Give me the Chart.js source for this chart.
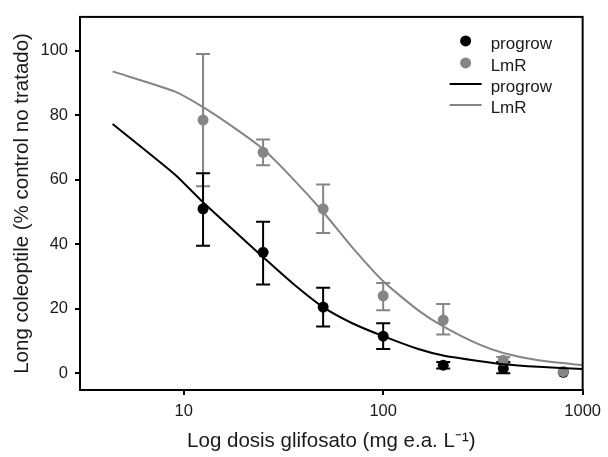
<!DOCTYPE html>
<html><head><meta charset="utf-8">
<script src="https://cdn.jsdelivr.net/npm/chart.js@4.4.1/dist/chart.umd.min.js"></script>
<style>html,body{margin:0;padding:0;background:#fff}#wrap{width:608px;height:457px}</style>
</head><body><div id="wrap"><canvas id="c" width="608" height="457"></canvas></div>
<script>
const doses = [12.5, 25, 50, 100, 200, 400, 800];
const progrowMean = [51, 37.5, 20.5, 11.5, 2.5, 1.5, 0.3];
const progrowLow  = [39.5, 27.5, 14.5, 7.5, 1.5, 0, 0.3];
const progrowHigh = [62, 47, 26.5, 15.5, 3.5, 3.5, 0.3];
const lmrMean = [78.5, 68.5, 51, 24, 16.5, 4, 0.5];
const lmrLow  = [58, 64.5, 43.5, 19.5, 12, 3, 0.5];
const lmrHigh = [99, 72.5, 58.5, 28, 21.5, 5, 0.5];
const curveX = [4.4, 9, 12.5, 18, 25, 35, 50, 70, 100, 150, 200, 300, 400, 600, 1000];
const progrowFit = [77.3, 61.7, 53, 44, 36, 28, 20.5, 15.5, 11.5, 7.5, 5.5, 3.8, 2.8, 2, 1.3];
const lmrFit = [93.6, 87.4, 82.5, 76, 69.5, 60.5, 50, 39, 28.5, 19.5, 14.5, 9, 6.3, 4, 2.5];
const xTicks = [10, 100, 1000];
const yTicks = [0, 20, 40, 60, 80, 100];
const labels = ['progrow', 'LmR'];
const xTitle = 'Log dosis glifosato (mg e.a. L\u207B\u00B9)';
const yTitle = 'Long coleoptile (% control no tratado)';

const BLACK = '#000000', GREY = '#858585';
const pts = (xs, ys) => xs.map((x, i) => ({x: x, y: ys[i]}));
const FONT = "'Liberation Sans', Arial, sans-serif";
const TXT = '#1a1a1a';

const errorBars = {
  id: 'errorBars',
  beforeDatasetsDraw(chart) {
    const {ctx, scales: {x, y}} = chart;
    const sets = [[lmrLow, lmrHigh, GREY], [progrowLow, progrowHigh, BLACK]];
    ctx.save();
    sets.forEach(([lo, hi, col]) => {
      ctx.strokeStyle = col; ctx.lineWidth = 2;
      doses.forEach((d, i) => {
        if (hi[i] - lo[i] < 0.01) return;
        const px = x.getPixelForValue(d), y1 = y.getPixelForValue(lo[i]), y2 = y.getPixelForValue(hi[i]);
        ctx.beginPath();
        ctx.moveTo(px, y1); ctx.lineTo(px, y2);
        ctx.moveTo(px - 7, y1); ctx.lineTo(px + 7, y1);
        ctx.moveTo(px - 7, y2); ctx.lineTo(px + 7, y2);
        ctx.stroke();
      });
    });
    ctx.restore();
  }
};

const frameLegend = {
  id: 'frameLegend',
  afterDraw(chart) {
    const {ctx, chartArea: a} = chart;
    ctx.save();
    ctx.strokeStyle = '#000'; ctx.lineWidth = 2;
    ctx.strokeRect(a.left, a.top, a.right - a.left, a.bottom - a.top);
    const lx = a.right - 117, tx = a.right - 92;
    const rows = [
      {t: labels[0], c: BLACK, kind: 'pt', y: a.top + 27},
      {t: labels[1], c: GREY, kind: 'pt', y: a.top + 49},
      {t: labels[0], c: BLACK, kind: 'ln', y: a.top + 70},
      {t: labels[1], c: GREY, kind: 'ln', y: a.top + 91}
    ];
    ctx.font = '17px ' + FONT; ctx.textBaseline = 'middle'; ctx.textAlign = 'left';
    rows.forEach(r => {
      if (r.kind === 'pt') {
        ctx.fillStyle = r.c; ctx.beginPath(); ctx.arc(lx, r.y - 3, 5.5, 0, Math.PI * 2); ctx.fill();
      } else {
        ctx.strokeStyle = r.c; ctx.lineWidth = 2; ctx.beginPath(); ctx.moveTo(lx - 16, r.y - 3); ctx.lineTo(lx + 16, r.y - 3); ctx.stroke();
      }
      ctx.fillStyle = TXT; ctx.fillText(r.t, tx, r.y);
    });
    ctx.restore();
  }
};

new Chart(document.getElementById('c'), {
  type: 'scatter',
  data: {
    datasets: [
      {label: labels[0] + ' fit', data: pts(curveX, progrowFit), showLine: true, borderColor: BLACK, borderWidth: 2, pointRadius: 0, tension: 0.2},
      {label: labels[1] + ' fit', data: pts(curveX, lmrFit), showLine: true, borderColor: GREY, borderWidth: 2, pointRadius: 0, tension: 0.2},
      {label: labels[1], data: pts(doses, lmrMean), backgroundColor: GREY, borderColor: GREY, pointRadius: 5.5, pointBorderWidth: 0},
      {label: labels[0], data: pts(doses, progrowMean), backgroundColor: BLACK, borderColor: BLACK, pointRadius: 5.5, pointBorderWidth: 0}
    ]
  },
  options: {
    responsive: false, animation: false, devicePixelRatio: 1,
    layout: {padding: {top: 13, right: 14, left: 0, bottom: 0}},
    plugins: {legend: {display: false}, tooltip: {enabled: false}},
    scales: {
      x: {
        type: 'logarithmic', min: 3.02, max: 1000,
        afterBuildTicks: s => { s.ticks = xTicks.map(v => ({value: v})); },
        afterFit: s => { s.height = 67; },
        grid: {display: true, drawOnChartArea: false, drawTicks: true, tickLength: 5, color: '#000', lineWidth: 2},
        border: {display: true, color: '#000', width: 2},
        ticks: {color: TXT, font: {family: FONT, size: 16.5}, padding: 7, maxRotation: 0, callback: v => String(v)},
        title: {display: true, text: xTitle, color: TXT, font: {family: FONT, size: 20.5}, padding: {top: 0, bottom: 3}}
      },
      y: {
        min: -5.2, max: 110.5,
        afterBuildTicks: s => { s.ticks = yTicks.map(v => ({value: v})); },
        afterFit: s => { s.width = 80; },
        grid: {display: true, drawOnChartArea: false, drawTicks: true, tickLength: 5, color: '#000', lineWidth: 2},
        border: {display: true, color: '#000', width: 2},
        ticks: {color: TXT, font: {family: FONT, size: 16.5}, padding: 7},
        title: {display: true, text: yTitle, color: TXT, font: {family: FONT, size: 20.5}, padding: {top: 10, bottom: 0}}
      }
    }
  },
  plugins: [errorBars, frameLegend]
});
</script></body></html>
